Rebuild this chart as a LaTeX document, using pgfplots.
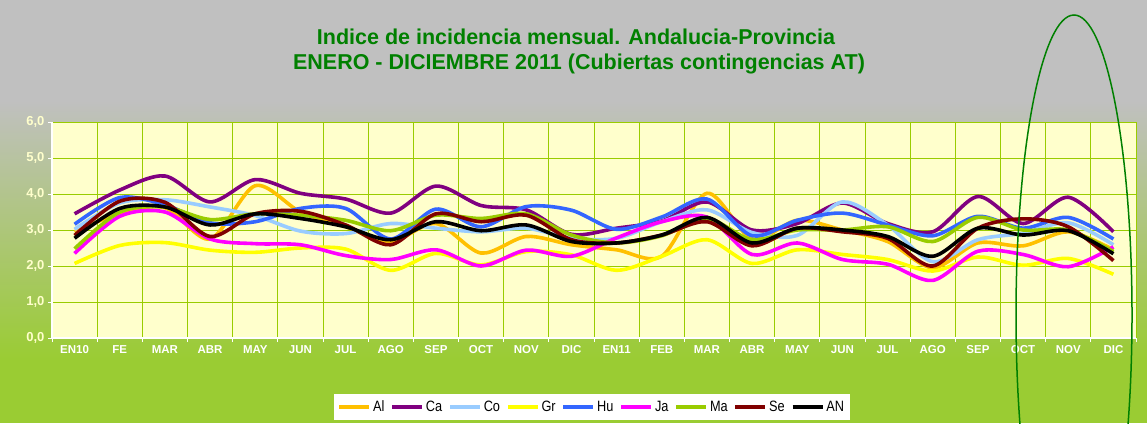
\documentclass[border=0pt]{standalone}
\usepackage{fontspec}
\setmainfont{Liberation Sans}
\newfontfamily\narrowfont{Liberation Sans}[FakeStretch=0.85]
\usepackage{pgfplots}
\pgfplotsset{compat=1.18}
\usepackage{pgfplotstable}

\definecolor{bgtop}{RGB}{192,192,192}
\definecolor{bggreen}{RGB}{154,204,51}
\definecolor{plotbg}{RGB}{255,255,204}
\definecolor{gridgreen}{RGB}{153,204,0}
\definecolor{titlegreen}{RGB}{0,128,0}
\definecolor{tickcream}{RGB}{255,255,204}
\definecolor{cAl}{RGB}{255,192,0}
\definecolor{cCa}{RGB}{128,0,128}
\definecolor{cCo}{RGB}{153,204,255}
\definecolor{cGr}{RGB}{255,255,0}
\definecolor{cHu}{RGB}{51,102,255}
\definecolor{cJa}{RGB}{255,0,255}
\definecolor{cMa}{RGB}{153,204,0}
\definecolor{cSe}{RGB}{128,0,0}

% indice mensual por provincia, EN10 .. DIC11
\pgfplotstableread{
m  Al   Ca   Co   Gr   Hu   Ja   Ma   Se   AN
0  2.95 3.45 3.02 2.07 3.16 2.35 2.48 2.85 2.77
1  3.46 4.11 3.75 2.57 3.90 3.38 3.50 3.80 3.60
2  3.62 4.50 3.84 2.65 3.70 3.50 3.64 3.77 3.64
3  2.75 3.78 3.64 2.44 3.20 2.75 3.29 2.82 3.14
4  4.23 4.40 3.40 2.38 3.23 2.62 3.45 3.45 3.45
5  3.50 4.02 2.97 2.50 3.60 2.59 3.41 3.52 3.32
6  3.09 3.86 2.90 2.47 3.60 2.29 3.27 3.14 3.09
7  2.68 3.47 3.18 1.88 2.75 2.18 2.98 2.59 2.73
8  3.18 4.22 3.05 2.35 3.58 2.45 3.41 3.45 3.23
9  2.36 3.68 2.95 2.03 3.09 2.00 3.32 3.23 2.98
10 2.82 3.56 3.05 2.40 3.65 2.44 3.45 3.41 3.14
11 2.59 2.88 2.77 2.31 3.55 2.27 2.86 2.73 2.68
12 2.45 3.05 2.77 1.88 3.02 2.78 2.64 2.64 2.64
13 2.27 3.25 3.23 2.27 3.36 3.23 2.84 2.86 2.86
14 4.02 3.78 3.56 2.73 3.86 3.36 3.32 3.23 3.35
15 2.75 3.00 2.93 2.07 2.84 2.32 2.73 2.56 2.64
16 3.27 3.18 2.85 2.45 3.27 2.64 3.00 3.05 3.05
17 3.00 3.75 3.78 2.32 3.47 2.18 3.00 2.95 3.00
18 2.68 3.18 3.14 2.18 3.14 2.05 3.09 2.77 2.82
19 1.95 2.95 2.12 1.86 2.84 1.60 2.68 2.00 2.27
20 2.64 3.93 2.73 2.25 3.38 2.41 3.35 3.05 3.05
21 2.56 3.18 2.91 2.02 3.05 2.32 3.00 3.31 2.86
22 2.95 3.91 3.20 2.21 3.35 1.98 3.00 3.09 2.98
23 2.45 2.95 2.59 1.77 2.75 2.53 2.40 2.15 2.34
}\incid

\begin{document}
\begin{tikzpicture}[x=1pt,y=1pt]
% fondo
\fill[bgtop] (0,322) rectangle (1147,423);
\shade[top color=bgtop, bottom color=bggreen] (0,63) rectangle (1147,322.5);
\fill[bggreen] (0,0) rectangle (1147,63.5);

\begin{axis}[
    at={(52pt,85pt)}, anchor=south west,
    scale only axis, width=1084pt, height=216pt,
    xmin=-0.5, xmax=23.5, ymin=0, ymax=6,
    axis background/.style={fill=plotbg},
    axis x line*=bottom, axis y line*=left,
    axis line style={white, line width=1.3pt, -},
    xtick={0,...,23},
    xticklabels={EN10,FE,MAR,ABR,MAY,JUN,JUL,AGO,SEP,OCT,NOV,DIC,EN11,FEB,MAR,ABR,MAY,JUN,JUL,AGO,SEP,OCT,NOV,DIC},
    major x tick style={draw=none},
    minor xtick={-0.5,0.5,...,23.5},
    xminorgrids=true, ymajorgrids=true,
    ytick={0,1,...,6},
    tick align=outside,
    minor tick length=4pt, major tick length=4pt,
    every tick/.style={white, line width=1pt},
    major grid style={gridgreen, line width=1pt},
    minor grid style={gridgreen, line width=1pt},
    /pgf/number format/fixed, /pgf/number format/fixed zerofill,
    /pgf/number format/precision=1, /pgf/number format/use comma,
    /pgf/number format/assume math mode=true,
    y tick label style={font=\bfseries\fontsize{13}{13}\selectfont, text=tickcream},
    x tick label style={font=\bfseries\fontsize{11.5}{12}\selectfont, text=white},
    legend columns=9,
    legend style={at={(0.498,-0.32)}, anchor=center, fill=white, draw=none,
        font=\narrowfont\fontsize{15}{15}\selectfont, inner xsep=4pt, inner ysep=5pt,
        /tikz/every even column/.append style={column sep=4pt},
        /tikz/every odd column/.append style={column sep=0pt}},
    legend image code/.code={\draw[#1, line width=3.5pt] (0pt,0pt) -- (30pt,0pt);},
]
\addplot[cAl, line width=3.6pt, smooth] table[x=m,y=Al]{\incid}; \addlegendentry{Al}
\addplot[cCa, line width=3.6pt, smooth] table[x=m,y=Ca]{\incid}; \addlegendentry{Ca}
\addplot[cCo, line width=3.6pt, smooth] table[x=m,y=Co]{\incid}; \addlegendentry{Co}
\addplot[cGr, line width=3.6pt, smooth] table[x=m,y=Gr]{\incid}; \addlegendentry{Gr}
\addplot[cHu, line width=3.6pt, smooth] table[x=m,y=Hu]{\incid}; \addlegendentry{Hu}
\addplot[cJa, line width=3.6pt, smooth] table[x=m,y=Ja]{\incid}; \addlegendentry{Ja}
\addplot[cMa, line width=3.6pt, smooth] table[x=m,y=Ma]{\incid}; \addlegendentry{Ma}
\addplot[cSe, line width=3.6pt, smooth] table[x=m,y=Se]{\incid}; \addlegendentry{Se}
\addplot[black, line width=3.6pt, smooth] table[x=m,y=AN]{\incid}; \addlegendentry{AN}
\end{axis}

% titulo
\node[text=titlegreen, font=\bfseries\fontsize{21.5}{21.5}\selectfont] at (576,386) {Indice de incidencia mensual. Andalucia-Provincia};
\node[text=titlegreen, font=\bfseries\fontsize{21.5}{21.5}\selectfont] at (579,359) {ENERO - DICIEMBRE 2011 (Cubiertas contingencias AT)};

% elipse marcada a mano
\begin{scope}
\clip (0,0) rectangle (1147,423);
\draw[titlegreen, line width=1.5pt] (1074,108) ellipse [x radius=58, y radius=300];
\end{scope}

\pgfresetboundingbox
\path[use as bounding box] (0,0) rectangle (1147,423);
\end{tikzpicture}
\end{document}
